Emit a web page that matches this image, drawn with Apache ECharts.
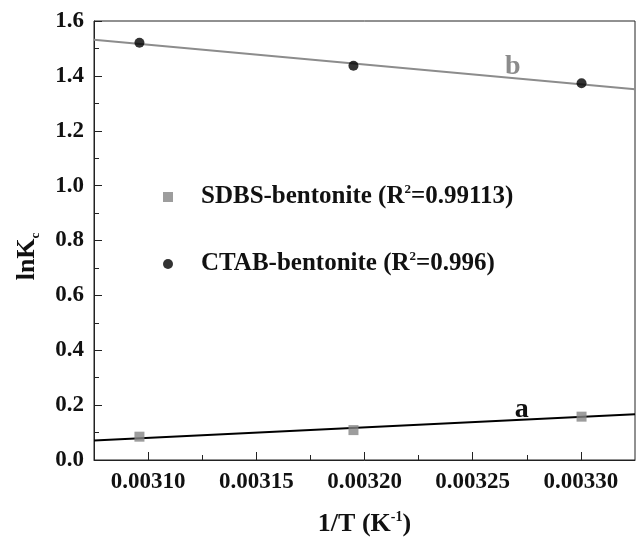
<!DOCTYPE html>
<html>
<head>
<meta charset="utf-8">
<script src="https://cdn.jsdelivr.net/npm/echarts@6/dist/echarts.min.js"></script>
<style>html,body{margin:0;padding:0;background:#fff}#c{width:637px;height:537px}</style>
</head>
<body>
<div id="c"></div>
<script>
// 1/T values (K^-1)
var invT = [0.003096, 0.0031949, 0.0033003];
var sdbsLnK = [0.085, 0.109, 0.158];
var ctabLnK = [1.521, 1.437, 1.373];
// fitted lines (ends at the axis limits)
var fitX = [0.003075, 0.003325];
var fitA = [0.071, 0.167];
var fitB = [1.532, 1.351];
var xMajor = [0.0031, 0.00315, 0.0032, 0.00325, 0.0033];
var xMinor = [0.003125, 0.003175, 0.003225, 0.003275];
var labelA = [0.0032727, 0.133];
var labelB = [0.0032685, 1.382];

var FF = '"Liberation Serif", "Times New Roman", serif';
function pairs(xs, ys){ return xs.map(function(x,i){ return [x, ys[i]]; }); }

var chart = echarts.init(document.getElementById('c'), null, {renderer:'canvas'});
chart.setOption({
  animation: false,
  backgroundColor: '#fff',
  grid: {left: 94, top: 21, right: 2, bottom: 77, containLabel: false, outerBoundsMode: 'none',
    show: true, borderColor: '#222', borderWidth: 1},
  legend: {
    orient: 'vertical', left: 163, top: 183, padding: 0, itemGap: 40,
    itemWidth: 10, itemHeight: 10,
    data: [{name: 'SDBS-bentonite', icon: 'rect'}, {name: 'CTAB-bentonite', icon: 'circle'}],
    formatter: function(n){
      var r = n === 'SDBS-bentonite' ? '0.99113' : '0.996';
      return '{p|' + n + ' (R}{s|2}{n|=' + r + ')}';
    },
    textStyle: {
      rich: {
        p: {fontFamily: FF, fontWeight: 'bold', fontSize: 25, color: '#111', lineHeight: 28, padding: [0,0,0,23]},
        n: {fontFamily: FF, fontWeight: 'bold', fontSize: 25, color: '#111', lineHeight: 28},
        s: {fontFamily: FF, fontWeight: 'bold', fontSize: 13, color: '#111', lineHeight: 13, verticalAlign: 'top', padding: [0,0,14,0]}
      }
    }
  },
  xAxis: [{
    type: 'value', min: 0.003075, max: 0.003325,
    name: '{n|1/T (K}{s|-1}{n|)}', nameLocation: 'middle', nameGap: 50,
    nameTextStyle: {rich: {
      n: {fontFamily: FF, fontWeight: 'bold', fontSize: 26, color: '#111', lineHeight: 28},
      s: {fontFamily: FF, fontWeight: 'bold', fontSize: 14, color: '#111', lineHeight: 14, verticalAlign: 'top', padding: [0,0,14,0]}
    }},
    axisLine: {show: true, lineStyle: {color: '#222', width: 1}},
    axisTick: {show: true, inside: true, length: 8, customValues: xMajor, lineStyle: {color: '#222'}},
    axisLabel: {customValues: xMajor, margin: 11, fontFamily: FF, fontWeight: 'bold', fontSize: 23, color: '#111',
      formatter: function(v){ return v.toFixed(5); }},
    splitLine: {show: false}
  }, {
    type: 'value', min: 0.003075, max: 0.003325, position: 'bottom',
    axisLine: {show: false},
    axisTick: {show: true, inside: true, length: 5, customValues: xMinor, lineStyle: {color: '#222'}},
    axisLabel: {show: false},
    splitLine: {show: false}
  }],
  yAxis: {
    type: 'value', min: 0, max: 1.6, interval: 0.2,
    name: '{n|lnK}{c|c}', nameLocation: 'middle', nameGap: 52, nameRotate: 90,
    nameTextStyle: {padding: [0, 32, 0, 0], rich: {
      n: {fontFamily: FF, fontWeight: 'bold', fontSize: 26, color: '#111', lineHeight: 30},
      c: {fontFamily: FF, fontWeight: 'bold', fontSize: 13, color: '#111', lineHeight: 13, verticalAlign: 'bottom'}
    }},
    axisLine: {show: true, lineStyle: {color: '#222', width: 1}},
    axisTick: {show: true, inside: true, length: 8, lineStyle: {color: '#222'}},
    minorTick: {show: true, splitNumber: 2, length: 5, lineStyle: {color: '#222'}},
    axisLabel: {margin: 10, fontFamily: FF, fontWeight: 'bold', fontSize: 23, color: '#111',
      formatter: function(v){ return v.toFixed(1); }},
    splitLine: {show: false}, minorSplitLine: {show: false}
  },
  series: [{
    name: 'fit a', type: 'line', data: pairs(fitX, fitA), symbol: 'none',
    lineStyle: {color: '#000', width: 2}, z: 2,
    markPoint: {symbol: 'circle', symbolSize: 0, data: [{coord: labelA}],
      label: {show: true, position: 'top', distance: 0, formatter: 'a', fontFamily: FF, fontWeight: 'bold', fontSize: 28, color: '#111'}}
  }, {
    name: 'fit b', type: 'line', data: pairs(fitX, fitB), symbol: 'none',
    lineStyle: {color: '#8c8c8c', width: 2}, z: 2,
    markPoint: {symbol: 'circle', symbolSize: 0, data: [{coord: labelB}],
      label: {show: true, position: 'top', distance: 0, formatter: 'b', fontFamily: FF, fontWeight: 'bold', fontSize: 28, color: '#8c8c8c'}}
  }, {
    name: 'SDBS-bentonite', type: 'scatter', data: pairs(invT, sdbsLnK), symbol: 'rect', symbolSize: 10,
    itemStyle: {color: '#858585'}, z: 3
  }, {
    name: 'CTAB-bentonite', type: 'scatter', data: pairs(invT, ctabLnK), symbol: 'circle', symbolSize: 10,
    itemStyle: {color: '#000'}, z: 3
  }]
});
</script>
</body>
</html>
